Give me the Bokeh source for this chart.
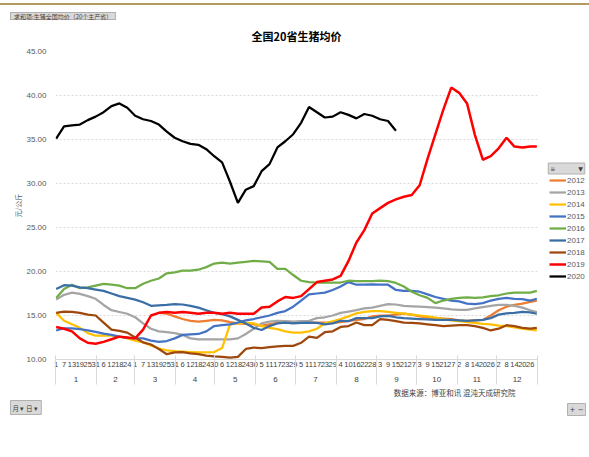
import numpy as np
from bokeh.plotting import figure
from bokeh.models import (Range1d, FixedTicker, LinearAxis, Legend, LegendItem,
                          Title, Label, Div, NumeralTickFormatter)
from bokeh.layouts import column, row
from bokeh.embed import file_html
from bokeh.resources import INLINE

# ---------------- data ----------------
month_lengths = [31, 29, 31, 30, 31, 30, 31, 31, 30, 31, 30, 31]
month_labels = ["1", "2", "3", "4", "5", "6", "7", "8", "9", "10", "11", "12"]
tick_days = list(range(0, 361, 6))          # day index of each labelled category
day_labels = ["1", "7", "13", "19", "25", "31",
              "6", "12", "18", "24",
              "1", "7", "13", "19", "25", "31",
              "6", "12", "18", "24", "30",
              "6", "12", "18", "24", "30",
              "5", "11", "17", "23", "29",
              "5", "11", "17", "23", "29",
              "4", "10", "16", "22", "28",
              "3", "9", "15", "21", "27",
              "3", "9", "15", "21", "27",
              "2", "8", "14", "20", "26",
              "2", "8", "14", "20", "26"]
days = tick_days + [365]

y2012 = [None] * 13 + [15.3, 15.2, 14.9, 14.6, 14.4, 14.3, 14.4, 14.5, 14.45, 14.25, 14.1, 14.05,
                       14.0, 13.85, 14.0, 14.15, 14.3, 14.25, 14.2, 14.2, 14.2, 14.2, 14.15, 14.25,
                       14.4, 14.5, 14.6, 14.9, 15.0, 15.0, 15.1, 15.2, 15.1, 14.9, 14.8, 14.7,
                       14.65, 14.6, 14.45, 14.4, 14.45, 14.5, 15.0, 15.6, 16.0, 16.2, 16.35, 16.55, 16.7]
y2013 = [16.8, 17.35, 17.6, 17.45, 17.2, 16.9, 16.2, 15.6, 15.4, 15.2, 14.8, 14.1, 13.5, 13.2,
         13.1, 13.0, 12.8, 12.4, 12.3, 12.3, 12.3, 12.3, 12.3, 12.4, 12.9, 13.5, 14.1, 14.3,
         14.4, 14.35, 14.3, 14.35, 14.4, 14.7, 14.8, 15.0, 15.3, 15.45, 15.6, 15.8, 15.9, 16.1,
         16.3, 16.25, 16.1, 16.05, 16.0, 15.95, 15.9, 15.8, 15.7, 15.65, 15.65, 15.8, 15.95,
         16.1, 16.2, 16.2, 16.1, 15.9, 15.6, 15.4]
y2014 = [15.3, 14.4, 14.0, 13.6, 13.0, 12.7, 12.7, 12.7, 12.6, 12.4, 12.15, 11.95, 11.6, 11.25,
         11.05, 10.95, 10.9, 10.85, 10.8, 10.8, 10.85, 11.3, 14.0, 14.1, 14.2, 14.1, 13.8, 13.6,
         13.45, 13.2, 13.05, 13.05, 13.2, 13.5, 14.1, 14.35, 14.6, 14.9, 15.25, 15.4, 15.5, 15.5,
         15.4, 15.3, 15.2, 15.1, 15.0, 14.9, 14.75, 14.6, 14.45, 14.35, 14.25, 14.15, 14.05,
         14.0, 13.85, 13.8, 13.65, 13.5, 13.4, 13.3]
y2015 = [13.3, 13.55, 13.55, 13.45, 13.3, 13.15, 12.95, 12.8, 12.6, 12.45, 12.4, 12.4, 12.15,
         12.0, 12.1, 12.4, 12.8, 12.85, 12.9, 13.2, 13.8, 13.9, 14.0, 14.2, 14.45, 14.6, 14.8,
         15.0, 15.3, 15.5, 16.0, 16.7, 17.4, 17.5, 17.6, 17.9, 18.3, 18.8, 18.5, 18.5, 18.55,
         18.5, 18.5, 17.9, 17.8, 17.8, 17.7, 17.4, 17.1, 16.9, 16.7, 16.6, 16.35, 16.3, 16.4,
         16.7, 16.9, 17.0, 16.9, 16.85, 16.7, 16.9]
y2016 = [17.0, 18.0, 18.5, 18.1, 18.2, 18.4, 18.6, 18.5, 18.4, 18.1, 18.1, 18.6, 18.95, 19.2,
         19.8, 19.9, 20.1, 20.1, 20.2, 20.5, 20.9, 21.0, 20.9, 21.0, 21.1, 21.2, 21.15, 21.1,
         20.3, 20.3, 19.6, 18.95, 18.8, 18.75, 18.75, 18.75, 18.75, 18.95, 18.9, 18.9, 18.9,
         18.95, 18.9, 18.7, 18.3, 17.7, 17.3, 17.0, 16.4, 16.7, 16.9, 17.0, 17.05, 17.0, 17.05,
         17.2, 17.3, 17.5, 17.6, 17.6, 17.6, 17.8]
y2017 = [18.0, 18.45, 18.4, 18.2, 18.1, 17.95, 17.8, 17.5, 17.2, 17.0, 16.8, 16.5, 16.1, 16.15,
         16.2, 16.3, 16.25, 16.1, 15.9, 15.6, 15.3, 15.15, 14.9, 14.5, 14.1, 13.6, 13.35, 13.8,
         14.1, 14.2, 14.1, 14.15, 14.2, 14.15, 14.0, 14.1, 14.4, 14.35, 14.7, 14.7, 14.7, 14.9,
         14.95, 14.8, 14.7, 14.65, 14.6, 14.55, 14.5, 14.5, 14.5, 14.45, 14.4, 14.45, 14.5,
         14.7, 15.1, 15.25, 15.3, 15.4, 15.35, 15.2]
y2018 = [15.3, 15.45, 15.4, 15.3, 15.1, 15.0, 14.2, 13.4, 13.25, 13.05, 12.5, 11.95, 11.7, 11.2,
         10.6, 10.8, 10.85, 10.7, 10.6, 10.45, 10.35, 10.3, 10.2, 10.3, 11.2, 11.35, 11.3, 11.4,
         11.5, 11.55, 11.55, 11.9, 12.6, 12.45, 13.1, 13.2, 13.7, 13.8, 14.2, 13.9, 13.9, 14.6,
         14.5, 14.35, 14.2, 14.15, 14.1, 14.0, 13.9, 13.8, 13.85, 13.9, 13.9, 13.8, 13.6, 13.3,
         13.5, 13.9, 13.8, 13.6, 13.5, 13.6]
y2019 = [13.7, 13.5, 13.2, 12.4, 11.9, 11.8, 12.0, 12.3, 12.6, 12.5, 12.4, 13.4, 15.0, 15.3,
         15.4, 15.3, 15.4, 15.3, 15.2, 15.3, 15.3, 15.2, 15.3, 15.2, 15.2, 15.2, 15.9, 16.0,
         16.6, 17.1, 17.0, 17.2, 18.0, 18.8, 18.95, 19.1, 19.5, 21.2, 23.3, 24.7, 26.6, 27.2,
         27.8, 28.2, 28.5, 28.7, 29.8, 32.8, 35.6, 38.4, 40.9, 40.3, 39.1, 35.5, 32.7, 33.1,
         34.0, 35.2, 34.2, 34.1, 34.2, 34.2]
y2020 = [35.1, 36.5, 36.6, 36.7, 37.2, 37.6, 38.1, 38.8, 39.1, 38.6, 37.7, 37.3, 37.1, 36.7,
         35.9, 35.2, 34.8, 34.5, 34.4, 33.9, 33.1, 32.4, 30.2, 27.8, 29.3, 29.7, 31.4, 32.2,
         34.1, 34.8, 35.6, 36.9, 38.7, 38.1, 37.5, 37.6, 38.1, 37.8, 37.4, 37.9, 37.7, 37.3,
         37.1, 36.0] + [None] * 18

series_names = ["2012", "2013", "2014", "2015", "2016", "2017", "2018", "2019", "2020"]
series_values = [y2012, y2013, y2014, y2015, y2016, y2017, y2018, y2019, y2020]
series_colors = ["#ED7D31", "#A5A5A5", "#FFC000", "#4472C4", "#70AD47", "#3B6EA5",
                 "#9E480E", "#FF0000", "#000000"]
series_widths = [2.25, 2.25, 2.25, 2.25, 2.25, 2.25, 2.25, 2.5, 2.25]

y_ticks = [10, 15, 20, 25, 30, 35, 40, 45]
chart_title = "全国20省生猪均价"
field_button = "求和项:生猪全国均价（20个主产省）"
source_note = "数据来源：博亚和讯 混沌天成研究院"

# ---------------- derived category geometry ----------------
bounds = [-0.5]
for m in month_lengths:
    bounds.append(bounds[-1] + m)
centers = [(bounds[i] + bounds[i + 1]) / 2 for i in range(12)]

FONT = "Liberation Sans"
CJK = "Noto Sans CJK SC"
FIG_H = 412


def bare_axis(ax):
    ax.axis_line_color = None
    ax.major_tick_line_color = None
    ax.minor_tick_line_color = None
    ax.major_tick_out = 0
    ax.major_tick_in = 0
    ax.minor_tick_out = 0
    ax.minor_tick_in = 0


p = figure(width=540, height=FIG_H, output_backend="svg", toolbar_location=None,
           x_range=Range1d(bounds[0], bounds[-1]), y_range=Range1d(10, 45),
           min_border_left=55, min_border_right=3, min_border_top=6, min_border_bottom=98,
           title=None)
p.outline_line_color = None
p.background_fill_color = "white"
p.border_fill_color = "white"

# y axis
yax = p.yaxis[0]
yax.ticker = FixedTicker(ticks=y_ticks)
yax.formatter = NumeralTickFormatter(format="0.00")
bare_axis(yax)
yax.major_label_standoff = 9
yax.major_label_text_font = FONT
yax.major_label_text_font_size = "8px"
yax.major_label_text_color = "#595959"
yax.axis_label = "元/公斤"
yax.axis_label_text_font = CJK
yax.axis_label_text_font_style = "normal"
yax.axis_label_text_font_size = "7px"
yax.axis_label_text_color = "#595959"
yax.axis_label_standoff = 0

p.ygrid.ticker = FixedTicker(ticks=y_ticks)
p.ygrid.grid_line_color = "#d9d9d9"
p.ygrid.grid_line_dash = "2 2"
p.xgrid.visible = False

# x axis: days
xa = p.xaxis[0]
xa.ticker = FixedTicker(ticks=tick_days)
xa.major_label_overrides = {d: lab for d, lab in zip(tick_days, day_labels)}
bare_axis(xa)
xa.axis_line_color = "#d9d9d9"
xa.major_label_standoff = 2
xa.major_label_text_font = FONT
xa.major_label_text_font_size = "7.5px"
xa.major_label_text_color = "#404040"

# x axis: months
ma = LinearAxis(ticker=FixedTicker(ticks=centers),
                major_label_overrides={c: lab for c, lab in zip(centers, month_labels)})
bare_axis(ma)
ma.major_label_standoff = 7
ma.major_label_text_font = FONT
ma.major_label_text_font_size = "8px"
ma.major_label_text_color = "#404040"
p.add_layout(ma, "below")

# month separators (ticks pointing up through the label rows)
sa = LinearAxis(ticker=FixedTicker(ticks=bounds),
                major_label_overrides={b: "" for b in bounds})
bare_axis(sa)
sa.major_tick_line_color = "#d9d9d9"
sa.major_tick_in = 29
sa.major_label_standoff = 1
sa.major_label_text_font_size = "1px"
p.add_layout(sa, "below")

# lines
for name, vals, col, w in zip(series_names, series_values, series_colors, series_widths):
    yv = np.array(vals, dtype=float)
    p.line(days, yv, line_color=col, line_width=w)


def make_title(text, align, offset, standoff, size, color="#404040", font=CJK, bg=None):
    t = Title(text=text, align=align, offset=offset, standoff=standoff,
              text_font=font, text_font_size=size, text_color=color,
              text_font_style="normal")
    if bg is not None:
        t.background_fill_color = bg
        t.border_line_color = "#b0b0b0"
        try:
            t.padding = 2
        except Exception:
            pass
    return t

p.add_layout(make_title(source_note, "right", 22, 0, "7.5px"), "below")
p.add_layout(make_title("月 ▾  日 ▾", "left", -45, 2, "6.5px", bg="#d9d9d9"), "below")

# ---------------- legend strip on the right ----------------
q = figure(width=49, height=FIG_H, output_backend="svg", toolbar_location=None,
           x_axis_type=None, y_axis_type=None, x_range=Range1d(0, 1), y_range=Range1d(0, 1),
           min_border_left=0, min_border_right=0, min_border_top=6, min_border_bottom=98,
           title=None)
q.outline_line_color = None
q.xgrid.visible = False
q.ygrid.visible = False
items = []
for name, col, w in zip(series_names, series_colors, series_widths):
    r = q.line([0.0], [float("nan")], line_color=col, line_width=w)   # legend swatch only
    items.append(LegendItem(label=name, renderers=[r]))
legend = Legend(items=items, location=(9, 77), orientation="vertical",
                padding=0, margin=0, spacing=0, glyph_width=17, glyph_height=12,
                label_height=12, label_standoff=1, label_text_font=FONT,
                label_text_font_size="8px", label_text_color="#595959",
                border_line_color=None, background_fill_alpha=0)
q.add_layout(legend)

hdr = Label(x=26, y=191, x_units="screen", y_units="screen",
            text="≡" + "\u00a0" * 12 + "▼",
            text_font="DejaVu Sans", text_font_size="6px", text_color="#404040",
            text_align="center", text_baseline="middle",
            background_fill_color="#d9d9d9", border_line_color="#b0b0b0")
try:
    hdr.padding = 2
except Exception:
    pass
q.add_layout(hdr)
q.add_layout(make_title("+ −", "right", 4, 84, "7px", font="DejaVu Sans", bg="#d9d9d9"),
             "below")

# ---------------- header strip (rule, pivot field button, chart title) ----------------
header_html = (
    '<div style="position:relative;width:589px;height:45px;font-family:\'Noto Sans CJK SC\';">'
    '<div style="position:absolute;left:0;top:3px;width:589px;height:2px;background:#b39a5e;"></div>'
    '<div style="position:absolute;left:10px;top:12px;height:8px;padding:0 3px;'
    'background:#d9d9d9;border:1px solid #b0b0b0;font-size:6px;line-height:8px;'
    'color:#404040;white-space:nowrap;">' + field_button + '</div>'
    '<div style="position:absolute;left:2px;width:589px;top:28px;text-align:center;'
    'font-size:11px;font-weight:bold;line-height:16px;color:#000;white-space:nowrap;">'
    + chart_title + '</div>'
    '</div>'
)
header = Div(text=header_html, width=589, height=45, margin=(0, 0, 0, 0))
p.margin = (0, 0, 0, 0)
q.margin = (0, 0, 0, 0)
layout = column(header, row(p, q, spacing=0), spacing=0)

open("out.html", "w").write(file_html(layout, INLINE))
